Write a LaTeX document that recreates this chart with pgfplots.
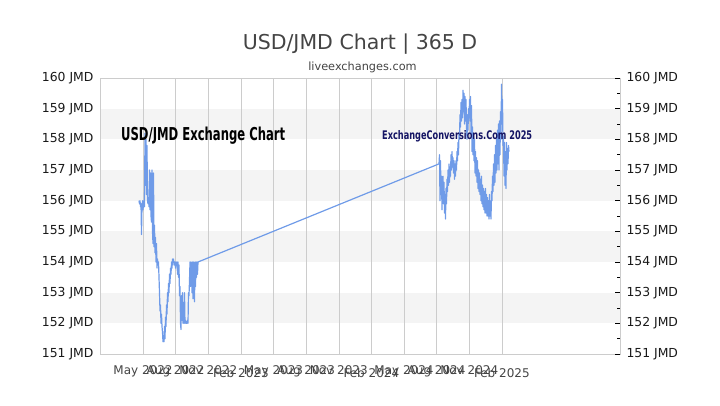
\documentclass[border=0pt]{standalone}
\usepackage{pgfplots}
\pgfplotsset{compat=1.18}
\usepackage{pgfplotstable}
\usepackage{fontspec}
\setmainfont{DejaVu Sans}
\newfontfamily\condfont{DejaVu Sans Condensed}
\definecolor{linecol}{HTML}{6F9BE8}
\definecolor{gridcol}{HTML}{CCCCCC}
\definecolor{bandcol}{HTML}{F4F4F4}
\definecolor{navy}{HTML}{141464}
\definecolor{titlecol}{HTML}{444444}
% x: position along the time axis (chart units), y: USD/JMD rate
\pgfplotstableread{
xp y
139.0 156.0
139.5 155.9
140.0 156.0
140.5 155.8
141.0 155.9
141.5 154.9
142.0 155.8
142.5 156.0
143.0 155.7
143.5 155.9
144.0 156.0
144.5 155.8
145.0 158.2
145.5 156.5
146.0 158.0
146.5 156.2
147.0 157.8
147.5 156.0
148.0 155.9
148.5 156.1
149.0 155.8
149.5 157.0
150.0 155.7
150.5 156.9
151.0 155.5
151.5 155.3
152.0 157.0
152.5 155.0
153.0 154.6
153.5 156.9
154.0 154.5
154.5 155.2
155.0 154.3
155.5 154.8
156.0 154.0
156.5 154.6
157.0 153.8
157.5 154.1
158.0 153.9
158.5 154.0
159.0 153.5
159.5 153.0
160.0 152.4
160.5 152.6
161.0 152.0
161.5 152.3
162.0 151.9
162.5 151.7
163.0 151.4
163.5 151.6
164.0 151.4
164.5 151.9
165.0 151.5
165.5 152.2
166.0 151.9
166.5 152.6
167.0 152.3
167.5 153.0
168.0 152.7
168.5 153.3
169.0 153.0
169.5 153.6
170.0 153.3
170.5 153.8
171.0 153.6
171.5 154.0
172.0 153.8
172.5 154.1
173.0 154.0
173.5 154.1
174.0 153.9
174.5 154.0
175.0 154.0
175.5 153.8
176.0 154.0
176.5 153.9
177.0 154.0
177.5 153.6
178.0 154.0
178.5 153.5
179.0 153.9
179.5 152.9
180.0 153.2
180.5 152.0
181.0 151.8
181.5 152.9
182.0 152.1
182.5 153.0
183.0 152.0
183.5 152.2
184.0 152.0
184.5 153.0
185.0 152.0
185.5 152.1
186.0 152.0
186.5 152.0
187.0 152.0
187.5 152.1
188.0 152.0
188.5 153.0
189.0 152.9
189.5 153.4
190.0 154.0
190.5 153.2
191.0 154.0
191.5 153.9
192.0 153.0
192.5 154.0
193.0 152.8
193.5 154.0
194.0 153.7
194.5 152.7
195.0 154.0
195.5 153.2
196.0 154.0
196.5 153.5
197.0 154.0
197.5 153.6
198.0 154.0
439.0 157.2
439.5 157.5
440.0 156.0
440.5 157.3
441.0 156.2
441.5 156.8
442.0 155.7
442.5 156.5
443.0 156.8
443.5 155.9
444.0 156.6
444.5 155.6
445.0 156.2
445.5 155.4
446.0 156.4
446.5 155.9
447.0 156.7
447.5 156.3
448.0 157.0
448.5 156.5
449.0 157.2
449.5 156.6
450.0 157.1
450.5 156.8
451.0 157.5
451.5 157.0
452.0 157.6
452.5 157.1
453.0 157.4
453.5 156.9
454.0 157.3
454.5 156.7
455.0 157.2
455.5 156.8
456.0 157.3
456.5 157.0
457.0 157.6
457.5 157.3
458.0 157.9
458.5 157.5
459.0 158.2
459.5 158.0
460.0 158.8
460.5 158.4
461.0 159.2
461.5 158.6
462.0 159.3
462.5 158.7
463.0 159.6
463.5 158.9
464.0 159.5
464.5 158.5
465.0 159.4
465.5 158.6
466.0 159.3
466.5 158.4
467.0 158.0
467.5 158.8
468.0 158.3
468.5 159.0
469.0 158.6
469.5 159.3
470.0 158.7
470.5 159.4
471.0 158.2
471.5 159.1
472.0 157.6
472.5 158.4
473.0 157.5
473.5 158.1
474.0 157.3
474.5 158.0
475.0 156.9
475.5 157.6
476.0 156.8
476.5 157.4
477.0 156.6
477.5 157.3
478.0 156.4
478.5 157.0
479.0 156.3
479.5 156.9
480.0 156.2
480.5 156.7
481.0 156.0
481.5 156.8
482.0 155.9
482.5 156.5
483.0 155.8
483.5 156.4
484.0 155.7
484.5 156.3
485.0 155.6
485.5 156.4
486.0 155.6
486.5 156.2
487.0 155.5
487.5 156.1
488.0 155.5
488.5 156.0
489.0 155.4
489.5 156.2
490.0 155.5
490.5 155.9
491.0 155.4
491.5 156.3
492.0 156.0
492.5 156.8
493.0 156.3
493.5 157.2
494.0 156.5
494.5 157.5
495.0 156.6
495.5 157.8
496.0 156.9
496.5 158.0
497.0 157.0
497.5 158.3
498.0 157.2
498.5 158.5
499.0 157.0
499.5 158.6
500.0 157.5
500.5 158.9
501.0 158.0
501.5 159.8
502.0 158.5
502.5 159.3
503.0 157.8
503.5 158.1
504.0 156.8
504.5 157.9
505.0 156.5
505.5 157.6
506.0 156.4
506.5 157.9
507.0 157.0
507.5 157.7
508.0 157.2
508.5 157.8
509.0 157.6
}\ratedata
\begin{document}
\begin{tikzpicture}[x=1pt,y=1pt]
\path (0,0) rectangle (720,405);
\node[anchor=base, inner sep=0pt, text=titlecol] at (360,355) {\fontsize{20.5}{24}\selectfont USD/JMD Chart | 365 D};
\node[anchor=base, inner sep=0pt, text=titlecol] at (362.5,334) {\fontsize{11.3}{13}\selectfont liveexchanges.com};
\begin{axis}[
  at={(100pt,51pt)}, anchor=south west, scale only axis,
  width=520pt, height=276pt,
  set layers,
  xmin=100, xmax=620, ymin=151, ymax=160,
  xtick={143,175.6,208.3,240.9,273.5,306.1,338.8,371.4,404.0,436.6,469.3,501.9},
  xticklabels={May 2022,Aug 2022,Nov 2022,\raisebox{-3pt}{Feb 2023},May 2023,Aug 2023,Nov 2023,\raisebox{-3pt}{Feb 2024},May 2024,Aug 2024,Nov 2024,\raisebox{-3pt}{Feb 2025}},
  xticklabel style={anchor=base, yshift=-20pt, text=titlecol, font=\fontsize{12}{14}\selectfont},
  xmajorgrids, grid style={draw=gridcol, line width=0.6pt},
  xtick style={draw=none},
  ytick={151,...,160},
  yticklabel={\pgfmathparse{int(round(\tick))}\pgfmathresult\ JMD},
  yticklabel style={font=\fontsize{12.4}{14}\selectfont, text=black!90, xshift=-3pt},
  ytick style={draw=none},
  axis line style={draw=gridcol, line width=0.6pt},
  clip=true,
]
\begin{pgfonlayer}{axis background}
\fill[bandcol] (axis cs:100,152) rectangle (axis cs:620,153);
\fill[bandcol] (axis cs:100,154) rectangle (axis cs:620,155);
\fill[bandcol] (axis cs:100,156) rectangle (axis cs:620,157);
\fill[bandcol] (axis cs:100,158) rectangle (axis cs:620,159);
\end{pgfonlayer}
\addplot[color=linecol, line width=1.2pt, line join=round] table[x=xp, y=y] {\ratedata};
\end{axis}
\begin{axis}[
  at={(100pt,51pt)}, anchor=south west, scale only axis,
  width=520pt, height=276pt,
  xmin=100, xmax=620, ymin=151, ymax=160,
  axis x line=none, axis y line*=right,
  ytick={151,...,160}, minor ytick={151.5,152.5,...,159.5},
  yticklabel={\pgfmathparse{int(round(\tick))}\pgfmathresult\ JMD},
  yticklabel style={font=\fontsize{12.4}{14}\selectfont, text=black!90, xshift=3pt},
  tick align=inside,
  major tick length=5pt, minor tick length=3pt,
  tick style={draw=black, line width=0.6pt},
  axis line style={draw=gridcol, line width=0.6pt},
]
\addplot[draw=none] coordinates {(100,151)};
\end{axis}
\node[anchor=base west, inner sep=0pt] at (121,264) {\resizebox{164pt}{13.5pt}{\condfont\bfseries USD/JMD Exchange Chart}};
\node[anchor=base west, inner sep=0pt, text=navy] at (382,265) {\resizebox{150pt}{9pt}{\condfont\bfseries ExchangeConversions.Com 2025}};
\end{tikzpicture}
\end{document}
